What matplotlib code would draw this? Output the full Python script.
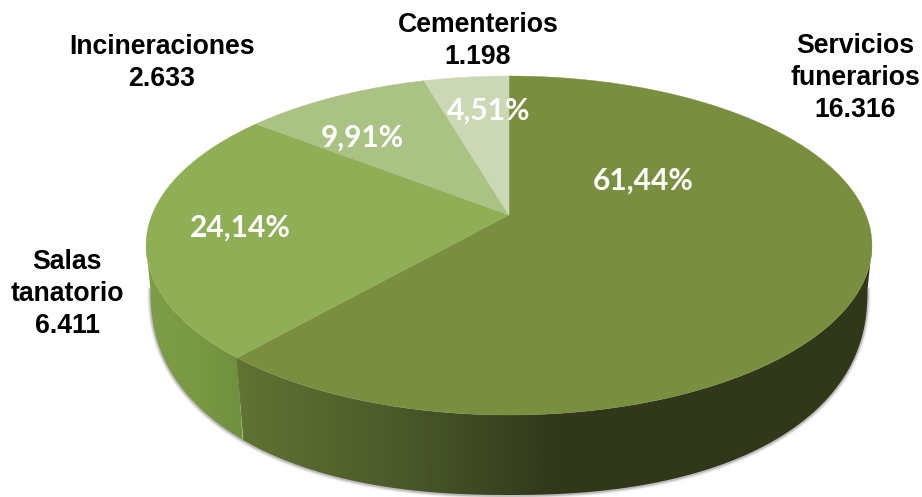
import numpy as np
import matplotlib
matplotlib.use("Agg")
import matplotlib.pyplot as plt
from matplotlib.colors import LinearSegmentedColormap
from matplotlib.patches import Polygon

categories = ["Servicios\nfunerarios", "Salas\ntanatorio", "Incineraciones", "Cementerios"]
values = [16316, 6411, 2633, 1198]
value_labels = ["16.316", "6.411", "2.633", "1.198"]
pct_labels = ["61,44%", "24,14%", "9,91%", "4,51%"]
top_colors = ["#7a8e40", "#8fae55", "#abc285", "#ccd7b5"]

# where the labels sit
label_pos = [(855, 78), (67, 294), (162, 63), (478, 41)]
pct_pos = [(643, 181), (240, 228), (362, 138), (489, 111)]

# perspective of the top face
CX = 509
K = 0.18
TOP_A, TOP_B, TOP_CY = 357, 164, 215
# outline of the lower edge
LOW_A, LOW_B, LOW_CY, LOW_N = 358.5, 205, 290, 2.27
SEAM_X_SHIFT = 6

# side wall shades, left to right
wall_shades = {"Servicios": ["#607433", "#4c5a2a", "#31381b", "#31381a", "#31381a"],
               "Salas": ["#7d9c47", "#7a9943", "#719040"]}


def project(t):
    # t = clockwise angle from 12 o'clock
    c, s = np.sin(t), np.cos(t)
    w = 1 + K * s
    return CX + TOP_A * c / w, TOP_CY - TOP_B * s / w


def lower_edge():
    u = np.linspace(0, np.pi, 600)
    x = CX - LOW_A * np.sign(np.cos(u)) * np.abs(np.cos(u)) ** (2 / LOW_N)
    y = LOW_CY + LOW_B * np.abs(np.sin(u)) ** (2 / LOW_N)
    return x, y


def wall(tt, lx, ly, shades, name):
    tx, ty = project(tt)
    # tt runs along the top, the lower edge comes back the other way
    if tx[0] > tx[-1]:
        lx, ly = lx[::-1], ly[::-1]
    pts = np.column_stack([np.r_[tx, lx[::-1]], np.r_[ty, ly[::-1]]])
    clip = Polygon(pts, closed=True, transform=ax.transData, fc="none", ec="none")
    ax.add_patch(clip)
    cmap = LinearSegmentedColormap.from_list(name, shades)
    grad = np.linspace(0, 1, 512).reshape(1, -1)
    im = ax.imshow(grad, cmap=cmap, aspect="auto", zorder=2, interpolation="bilinear",
                   extent=(pts[:, 0].min(), pts[:, 0].max(), pts[:, 1].max(), pts[:, 1].min()))
    im.set_clip_path(clip)


fig = plt.figure(figsize=(9.22, 4.97), dpi=100)
ax = fig.add_axes([0, 0, 1, 1])
ax.axis("off")

edges = np.concatenate([[0], np.cumsum(values) / np.sum(values)]) * 2 * np.pi
lx, ly = lower_edge()

# soft shadow under the disc
for lw, al in [(5, 0.06), (3.5, 0.12), (2, 0.25)]:
    ax.plot(lx, ly + 0.5, color="#555555", lw=lw, alpha=al, zorder=1)

# side wall of the two front slices
side = np.arccos(-K)
seam_top = project(np.array([edges[1]]))
seam_x = seam_top[0][0] + SEAM_X_SHIFT
right = lx >= seam_x
wall(np.linspace(side, edges[1], 300), lx[right], ly[right], wall_shades["Servicios"], "serv")
wall(np.linspace(edges[1], 2 * np.pi - side, 200), lx[~right], ly[~right], wall_shades["Salas"], "salas")
# close the hairline between the two walls
ax.plot([seam_top[0][0], lx[right][-1] if lx[right][-1] < lx[right][0] else lx[right][0]],
        [seam_top[1][0], ly[right][-1] if lx[right][-1] < lx[right][0] else ly[right][0]],
        color=wall_shades["Servicios"][0], lw=1.0, zorder=2.5, solid_capstyle="butt")

# top face
for i in range(4):
    tt = np.linspace(edges[i], edges[i + 1], 300)
    x, y = project(tt)
    pts = np.column_stack([np.r_[CX, x], np.r_[TOP_CY, y]])
    ax.add_patch(Polygon(pts, closed=True, fc=top_colors[i], ec=top_colors[i], lw=0.3, zorder=3))

for i in range(4):
    ax.text(label_pos[i][0], label_pos[i][1], categories[i] + "\n" + value_labels[i],
            ha="center", va="center", family="Liberation Sans", weight="bold",
            fontsize=19.2, color="black", linespacing=1.32, zorder=5)
    ax.text(pct_pos[i][0], pct_pos[i][1], pct_labels[i], ha="center", va="center",
            family="Lato", weight="bold", fontsize=21.5, color="white", zorder=6)

ax.set_xlim(0, 922)
ax.set_ylim(497, 0)
fig.savefig("out.png", dpi=100, facecolor="white")
